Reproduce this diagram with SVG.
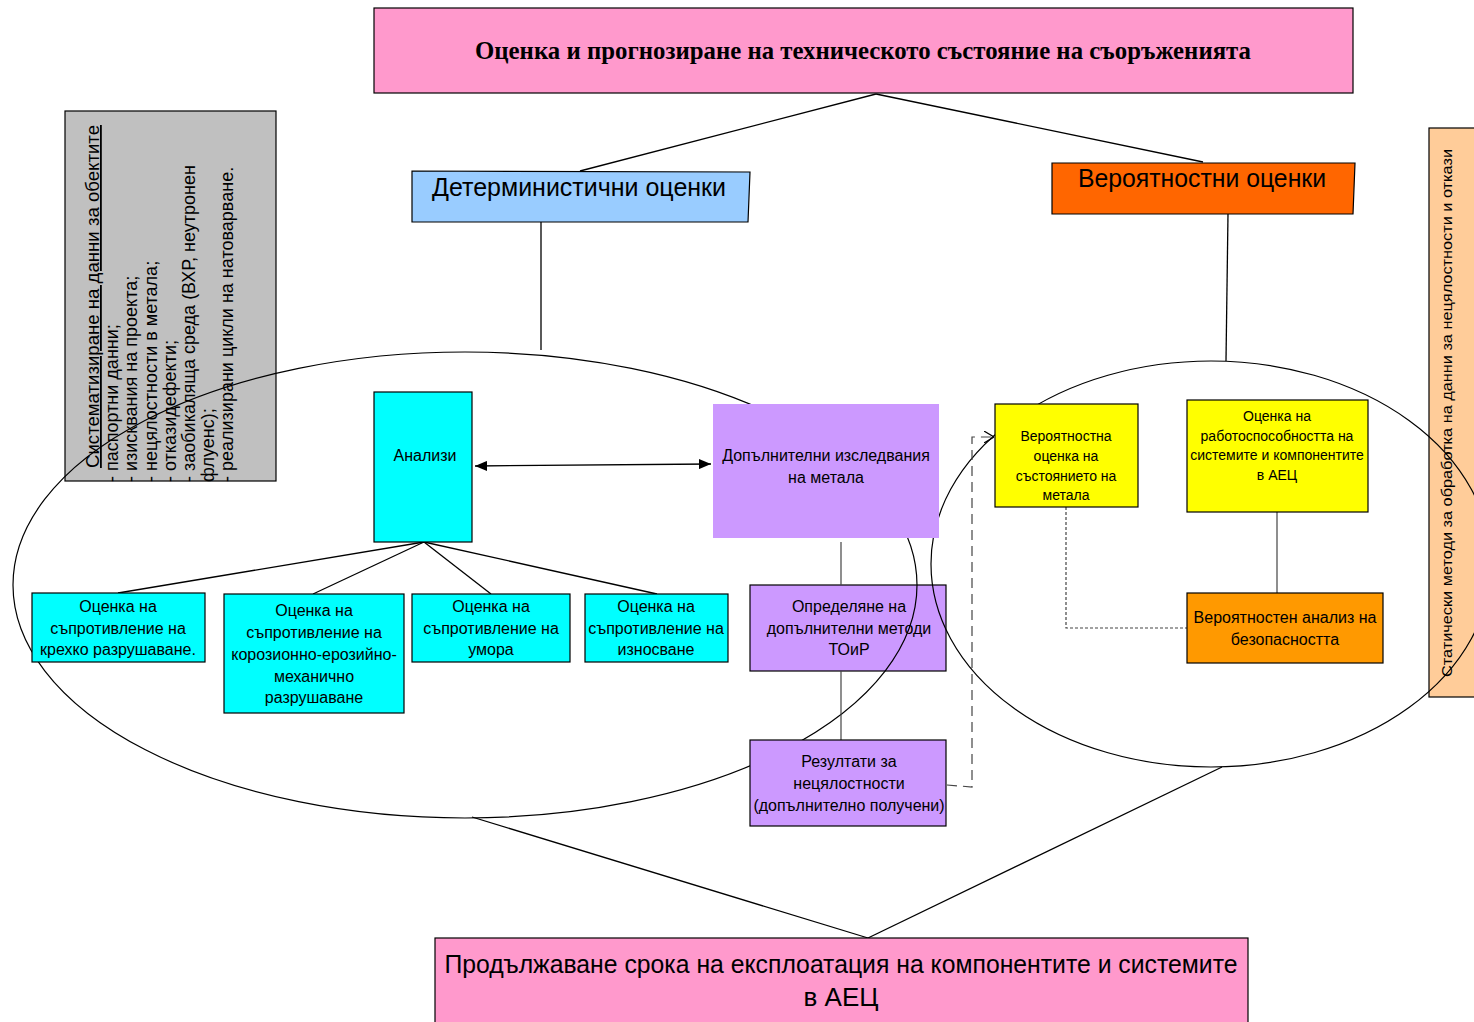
<svg xmlns="http://www.w3.org/2000/svg" width="1474" height="1022" viewBox="0 0 1474 1022">
  <defs>
    <style>
      .box { stroke: #000; stroke-width: 1.2; }
      .t { font-family: "Liberation Sans", Arial, sans-serif; fill: #000; text-anchor: middle; }
      .t16 { font-size: 16px; }
      .t14 { font-size: 14px; }
      .big { font-size: 26px; }
      .ln { stroke: #000; stroke-width: 1.3; fill: none; }
      .gl { stroke: #444; stroke-width: 1.2; fill: none; }
      .ring { stroke: #000; stroke-width: 1.2; fill: none; }
      .side { font-family: "Liberation Sans", Arial, sans-serif; font-size: 18px; fill: #000; }
    </style>
    <marker id="solidHead" viewBox="0 0 12 10" refX="12" refY="5" markerWidth="12" markerHeight="10" markerUnits="userSpaceOnUse" orient="auto-start-reverse">
      <path d="M0,0 L12,5 L0,10 Z" fill="#000"/>
    </marker>
    <marker id="openHead" viewBox="0 0 10 12" refX="10" refY="6" markerWidth="10" markerHeight="12" markerUnits="userSpaceOnUse" orient="auto">
      <path d="M0,0 L10,6 L0,12" fill="none" stroke="#000" stroke-width="1.2"/>
    </marker>
  </defs>

  <rect width="1474" height="1022" fill="#fff"/>

  <!-- side note: object data -->
  <g id="node-data">
    <rect x="65" y="111" width="211" height="370" fill="#C0C0C0" class="box"/>
    <text class="side" transform="translate(99,468) rotate(-90)" text-decoration="underline" textLength="343" lengthAdjust="spacingAndGlyphs">Систематизиране на данни за обектите</text>
    <text class="side" transform="translate(118,482) rotate(-90)">- паспортни данни;</text>
    <text class="side" transform="translate(137,482) rotate(-90)">- изисквания на проекта;</text>
    <text class="side" transform="translate(157,482) rotate(-90)">- нецялостности в метала;</text>
    <text class="side" transform="translate(176,482) rotate(-90)">- отказидефекти;</text>
    <text class="side" transform="translate(195,482) rotate(-90)">- заобикаляща среда (ВХР, неутронен</text>
    <text class="side" transform="translate(214,482) rotate(-90)">флуенс);</text>
    <text class="side" transform="translate(233,482) rotate(-90)">- реализирани цикли на натоварване.</text>
  </g>

  <!-- side note: statistical methods -->
  <g id="node-stat">
    <rect x="1429" y="128" width="50" height="569" fill="#FFCC99" class="box"/>
    <text class="t" style="font-size:15px;text-anchor:start" transform="translate(1452,677) rotate(-90)" textLength="528" lengthAdjust="spacingAndGlyphs">Статически методи за обработка на данни за нецялостности и откази</text>
  </g>

  <!-- box under the left ring -->
  <g id="node-toir">
    <rect x="750" y="585" width="196" height="86" fill="#CC99FF" class="box"/>
    <text class="t t16" x="849" y="612">Определяне на</text>
    <text class="t t16" x="849" y="634">допълнителни методи</text>
    <text class="t t16" x="849" y="655">ТОиР</text>
  </g>

  <!-- grouping rings -->
  <g id="rings">
    <ellipse cx="465" cy="585" rx="452" ry="233" class="ring"/>
    <ellipse cx="1211" cy="564" rx="280" ry="203" class="ring"/>
  </g>

  <g id="connectors">
    <line x1="876" y1="94" x2="580" y2="171" class="ln"/>
    <line x1="876" y1="94" x2="1203" y2="162" class="ln"/>
    <line x1="541" y1="221" x2="541" y2="350" class="ln"/>
    <line x1="1228" y1="214" x2="1226" y2="361" class="ln"/>
    <line x1="472" y1="817" x2="868" y2="938" class="ln"/>
    <line x1="1222" y1="767" x2="868" y2="938" class="ln"/>
    <line x1="475" y1="466" x2="711" y2="464" class="ln" marker-start="url(#solidHead)" marker-end="url(#solidHead)"/>
    <line x1="424" y1="542" x2="118" y2="593" class="ln"/>
    <line x1="424" y1="542" x2="313" y2="594" class="ln"/>
    <line x1="424" y1="542" x2="491" y2="594" class="ln"/>
    <line x1="424" y1="542" x2="657" y2="594" class="ln"/>
    <line x1="841" y1="542" x2="841" y2="585" class="gl"/>
    <line x1="841" y1="671" x2="841" y2="740" class="gl"/>
    <polyline points="947,785 972,787 972,437 994,437" class="gl" stroke="#333" stroke-dasharray="10,6" marker-end="url(#openHead)"/>
    <line x1="1277" y1="512" x2="1277" y2="593" class="gl"/>
    <polyline points="1066,507 1066,628 1187,628" class="gl" stroke="#666" stroke-dasharray="3,2"/>
  </g>

  <g id="node-title">
    <rect x="374" y="8" width="979" height="85" fill="#FF99CC" class="box"/>
    <text x="863" y="59" text-anchor="middle" font-family="'Liberation Serif', 'Times New Roman', serif" font-weight="bold" font-size="25" textLength="776" lengthAdjust="spacingAndGlyphs">Оценка и прогнозиране на техническото състояние на съоръженията</text>
  </g>

  <g id="node-det">
    <polygon points="412,171 750,172 748,222 412,222" fill="#99CCFF" class="box"/>
    <text class="t big" x="579" y="196" textLength="294" lengthAdjust="spacingAndGlyphs">Детерминистични оценки</text>
  </g>

  <g id="node-prob">
    <polygon points="1052,163 1355,163 1353,214 1052,214" fill="#FF6600" class="box"/>
    <text class="t big" x="1202" y="187" textLength="248" lengthAdjust="spacingAndGlyphs">Вероятностни оценки</text>
  </g>

  <g id="node-analysis">
    <rect x="374" y="392" width="98" height="150" fill="#00FFFF" class="box"/>
    <text class="t t16" x="425" y="461">Анализи</text>
  </g>

  <g id="node-metal">
    <rect x="713" y="404" width="226" height="134" fill="#CC99FF"/>
    <text class="t t16" x="826" y="461">Допълнителни изследвания</text>
    <text class="t t16" x="826" y="483">на метала</text>
  </g>

  <g id="node-brittle">
    <rect x="32" y="593" width="173" height="69" fill="#00FFFF" class="box"/>
    <text class="t t16" x="118" y="612">Оценка на</text>
    <text class="t t16" x="118" y="634">съпротивление на</text>
    <text class="t t16" x="118" y="655">крехко разрушаване.</text>
  </g>

  <g id="node-corrosion">
    <rect x="224" y="594" width="180" height="119" fill="#00FFFF" class="box"/>
    <text class="t t16" x="314" y="616">Оценка на</text>
    <text class="t t16" x="314" y="638">съпротивление на</text>
    <text class="t t16" x="314" y="660">корозионно-ерозийно-</text>
    <text class="t t16" x="314" y="682">механично</text>
    <text class="t t16" x="314" y="703">разрушаване</text>
  </g>

  <g id="node-fatigue">
    <rect x="412" y="594" width="158" height="68" fill="#00FFFF" class="box"/>
    <text class="t t16" x="491" y="612">Оценка на</text>
    <text class="t t16" x="491" y="634">съпротивление на</text>
    <text class="t t16" x="491" y="655">умора</text>
  </g>

  <g id="node-wear">
    <rect x="585" y="594" width="143" height="68" fill="#00FFFF" class="box"/>
    <text class="t t16" x="656" y="612">Оценка на</text>
    <text class="t t16" x="656" y="634">съпротивление на</text>
    <text class="t t16" x="656" y="655">износване</text>
  </g>

  <g id="node-results">
    <rect x="750" y="740" width="196" height="86" fill="#CC99FF" class="box"/>
    <text class="t t16" x="849" y="767">Резултати за</text>
    <text class="t t16" x="849" y="789">нецялостности</text>
    <text class="t t16" x="849" y="811">(допълнително получени)</text>
  </g>

  <g id="node-metal-prob">
    <rect x="995" y="404" width="143" height="103" fill="#FFFF00" class="box"/>
    <text class="t t14" x="1066" y="441">Вероятностна</text>
    <text class="t t14" x="1066" y="461">оценка на</text>
    <text class="t t14" x="1066" y="481">състоянието на</text>
    <text class="t t14" x="1066" y="500">метала</text>
  </g>

  <g id="node-operability">
    <rect x="1187" y="400" width="181" height="112" fill="#FFFF00" class="box"/>
    <text class="t t14" x="1277" y="421">Оценка на</text>
    <text class="t t14" x="1277" y="441">работоспособността на</text>
    <text class="t t14" x="1277" y="460">системите и компонентите</text>
    <text class="t t14" x="1277" y="480">в АЕЦ</text>
  </g>

  <g id="node-safety">
    <rect x="1187" y="593" width="196" height="70" fill="#FF9900" class="box"/>
    <text class="t t16" x="1285" y="623">Вероятностен анализ на</text>
    <text class="t t16" x="1285" y="645">безопасността</text>
  </g>

  <g id="node-extension">
    <rect x="435" y="938" width="813" height="90" fill="#FF99CC" class="box"/>
    <text class="t big" x="841" y="973" textLength="793" lengthAdjust="spacingAndGlyphs">Продължаване срока на експлоатация на компонентите и системите</text>
    <text class="t big" x="841" y="1006">в АЕЦ</text>
  </g>
</svg>
